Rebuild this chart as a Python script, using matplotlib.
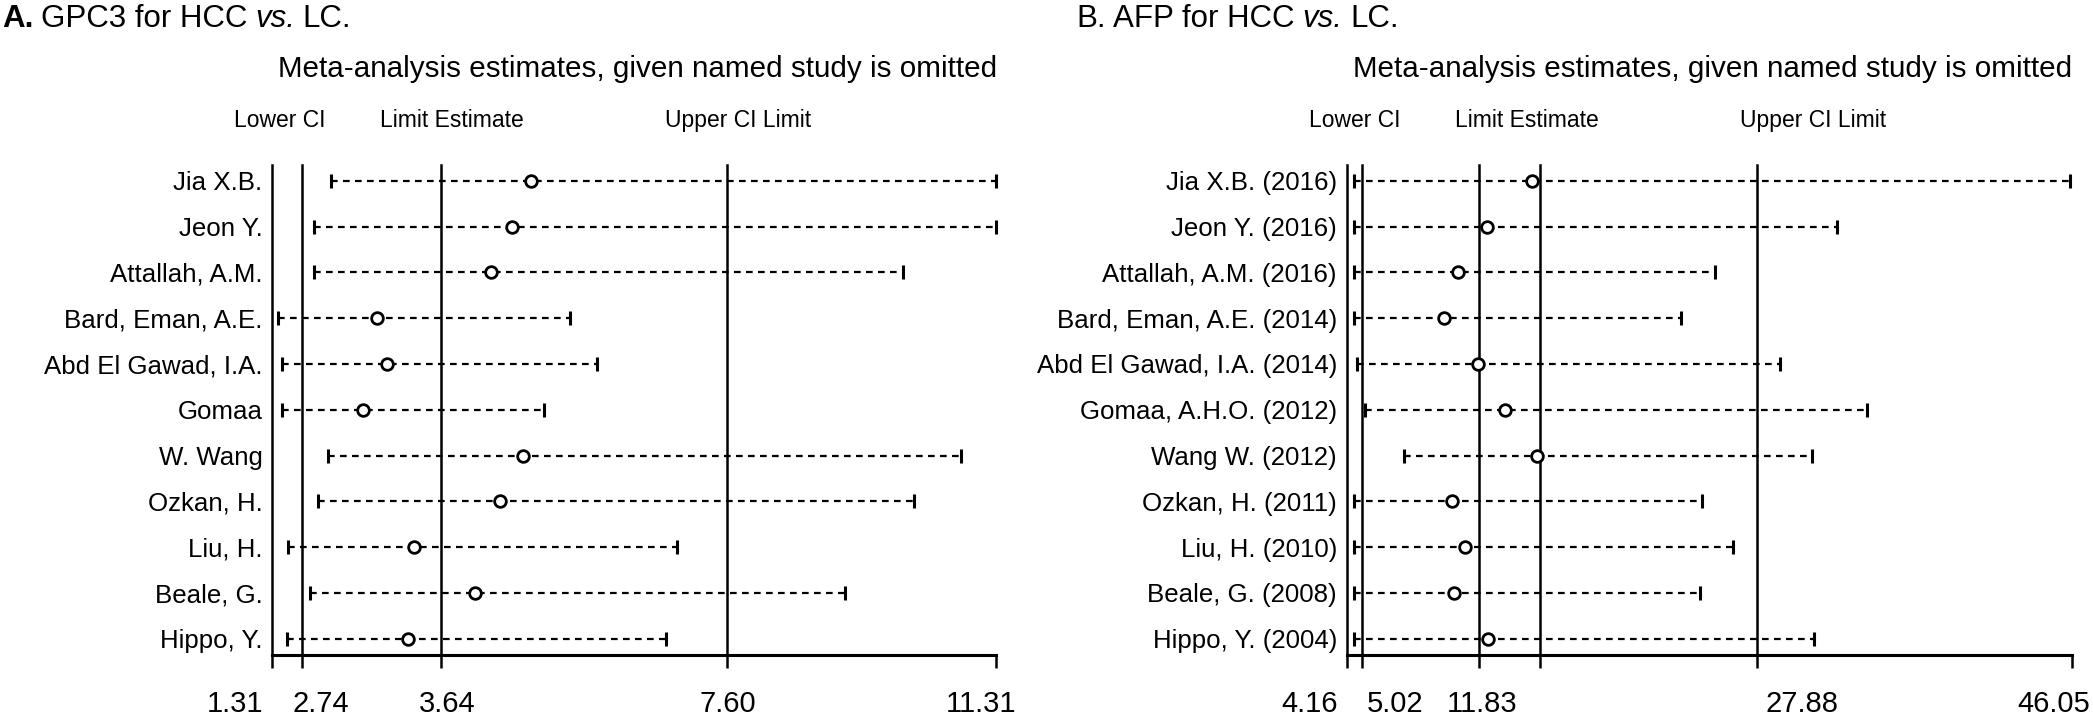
import matplotlib
matplotlib.use('Agg')
import matplotlib.pyplot as plt
import matplotlib.transforms as mtransforms
import numpy as np

plt.rcParams['font.family'] = ['Liberation Sans', 'DejaVu Sans']

# ---- data ----
gpc3_studies = ['Jia X.B.', 'Jeon Y.', 'Attallah, A.M.', 'Bard, Eman, A.E.',
                'Abd El Gawad, I.A.', 'Gomaa', 'W. Wang', 'Ozkan, H.', 'Liu, H.',
                'Beale, G.', 'Hippo, Y.']
gpc3_lower = [2.12, 1.89, 1.89, 1.39, 1.44, 1.45, 2.08, 1.94, 1.53, 1.83, 1.52]
gpc3_est = [4.89, 4.63, 4.33, 2.76, 2.90, 2.57, 4.77, 4.46, 3.27, 4.11, 3.18]
gpc3_upper = [11.31, 11.31, 10.03, 5.42, 5.80, 5.06, 10.83, 10.18, 6.91, 9.23, 6.75]
gpc3_ticks = [1.31, 1.72, 3.64, 7.60, 11.31]
gpc3_tick_labels = ['1.31', '2.74', '3.64', '7.60', '11.31']

afp_studies = ['Jia X.B. (2016)', 'Jeon Y. (2016)', 'Attallah, A.M. (2016)',
               'Bard, Eman, A.E. (2014)', 'Abd El Gawad, I.A. (2014)',
               'Gomaa, A.H.O. (2012)', 'Wang W. (2012)', 'Ozkan, H. (2011)',
               'Liu, H. (2010)', 'Beale, G. (2008)', 'Hippo, Y. (2004)']
afp_lower = [4.58, 4.58, 4.58, 4.58, 4.77, 5.22, 7.47, 4.58, 4.58, 4.58, 4.58]
afp_est = [14.85, 12.25, 10.61, 9.80, 11.73, 13.31, 15.17, 10.24, 10.99, 10.36, 12.31]
afp_upper = [45.94, 32.49, 25.45, 23.45, 29.22, 34.25, 31.03, 24.68, 26.49, 24.57, 31.14]
afp_ticks = [4.16, 5.02, 11.83, 15.33, 27.88, 46.05]
afp_tick_labels = ['4.16', '5.02', '11.83', '', '27.88', '46.05']

header = 'Meta-analysis estimates, given named study is omitted'
ci_header = ['Lower CI', 'Limit Estimate', 'Upper CI Limit']

W, H, DPI = 2093, 719, 100
fig = plt.figure(figsize=(W / DPI, H / DPI), dpi=DPI)
fig.patch.set_facecolor('white')


def draw_panel(rect, studies, lower, est, upper, ticks, tick_labels, label_shift):
    ax = fig.add_axes(rect)
    n = len(studies)
    y = np.arange(n)
    ax.hlines(y, lower, upper, colors='black', linestyles=(0, (3, 2.4)), lw=1.6, zorder=2)
    ax.plot(lower, y, '|', ms=9.5, mew=2.2, color='black', zorder=3, clip_on=False)
    ax.plot(upper, y, '|', ms=9.5, mew=2.2, color='black', zorder=3, clip_on=False)
    ax.plot(est, y, 'o', ms=8.4, mfc='white', mec='black', mew=2.0, zorder=4)
    for t in ticks[:-1]:
        ax.axvline(t, color='black', lw=1.8, zorder=1, clip_on=False)

    ax.set_xlim(ticks[0], ticks[-1])
    ax.set_ylim(n - 1 + 0.356, -0.343)
    for s in ['top', 'right', 'left']:
        ax.spines[s].set_visible(False)
    ax.spines['bottom'].set_linewidth(2.2)
    ax.spines['bottom'].set_capstyle('projecting')

    ax.set_xticks(ticks)
    ax.set_xticklabels([])
    ax.tick_params(axis='x', direction='out', length=9.4, width=1.8)
    ax.set_yticks(y)
    ax.set_yticklabels(studies, fontsize=18.6)
    ax.tick_params(axis='y', length=0, pad=7)

    # tick labels, nudged sideways like the original
    base = mtransforms.blended_transform_factory(ax.transData, ax.transAxes)
    for t, lab, dx in zip(ticks, tick_labels, label_shift):
        tr = base + mtransforms.ScaledTranslation(dx / DPI, 0, fig.dpi_scale_trans)
        ax.text(t, -0.1163, lab, transform=tr, ha='center', va='baseline', fontsize=21)

    ax.text(0.505, 1.180, header, transform=ax.transAxes, ha='center',
            va='baseline', fontsize=21.3)
    for xf, txt in zip([-0.0525, 0.149, 0.543], ci_header):
        ax.text(xf, 1.078, txt, transform=ax.transAxes, ha='left',
                va='baseline', fontsize=16.5)
    return ax


def panel_title(ax, x_px, parts):
    prev = None
    for txt, style in parts:
        if prev is None:
            prev = ax.annotate(txt, xy=(x_px / W, 1 - 27 / H), xycoords='figure fraction',
                               ha='left', va='baseline', fontsize=22.5,
                               annotation_clip=False, **style)
        else:
            prev = ax.annotate(txt, xy=(1, 0), xycoords=prev, xytext=(5.5, 0),
                               textcoords='offset points', ha='left', va='bottom',
                               fontsize=22.5, annotation_clip=False, **style)


ax1 = draw_panel([272.3 / W, 64 / H, 723.4 / W, 490 / H], gpc3_studies, gpc3_lower,
                 gpc3_est, gpc3_upper, gpc3_ticks, gpc3_tick_labels,
                 [-37, 19, 6, 0, -15])
ax2 = draw_panel([1346.7 / W, 64 / H, 725 / W, 490 / H], afp_studies, afp_lower,
                 afp_est, afp_upper, afp_ticks, afp_tick_labels,
                 [-37, 34, 3, 0, 45, -18])

panel_title(ax1, 2, [('A.', {'fontweight': 'bold'}), ('GPC3 for HCC', {}),
                     ('vs.', {'fontstyle': 'italic'}), ('LC.', {})])
panel_title(ax2, 1076, [('B.', {}), ('AFP for HCC', {}),
                        ('vs.', {'fontstyle': 'italic'}), ('LC.', {})])

fig.savefig('out.png', dpi=DPI)
